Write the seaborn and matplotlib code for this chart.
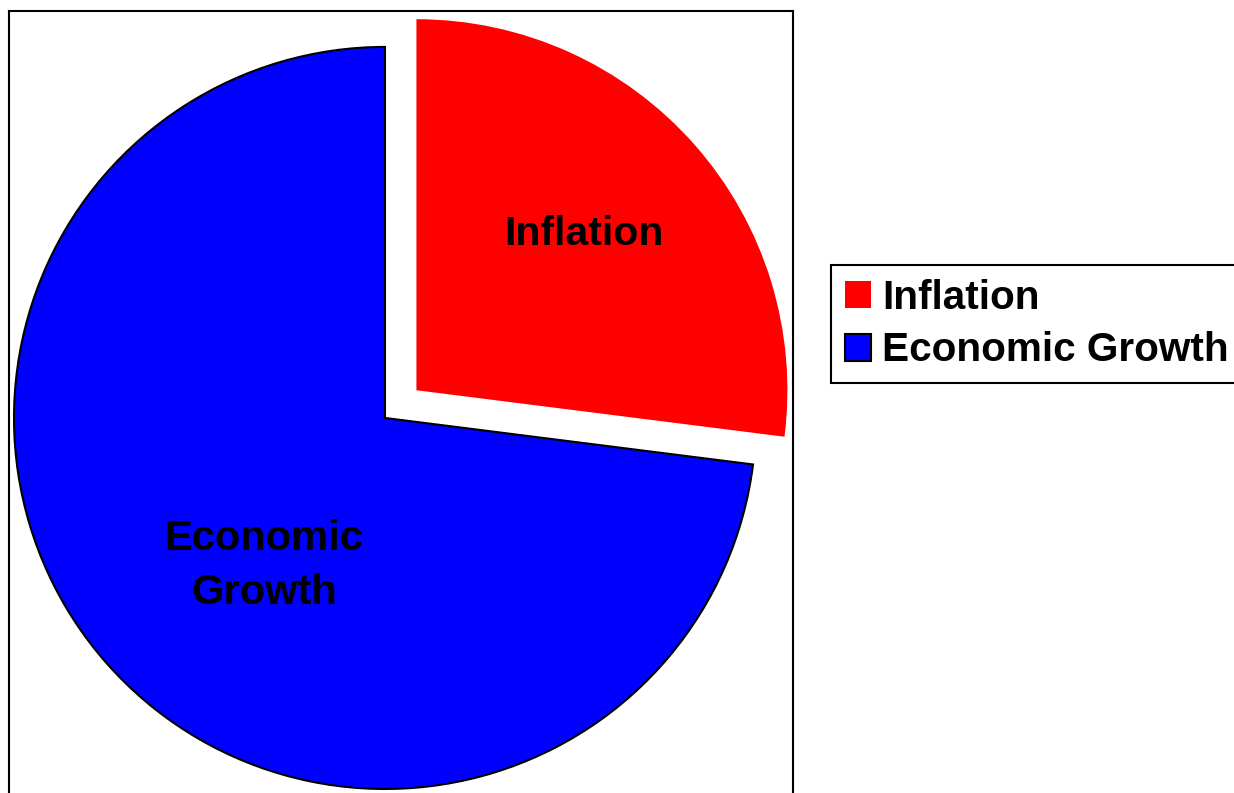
import matplotlib
matplotlib.use("Agg")
import matplotlib.pyplot as plt
import seaborn as sns

# Share of attention for each policy goal
categories = ["Inflation", "Economic Growth"]
shares = [27, 73]
colors = ["#FF0000", "#0000FF"]
explode = [0.113, 0.0]

sns.set_theme(style="white")
plt.rcParams["font.family"] = ["Liberation Sans", "DejaVu Sans"]
plt.rcParams["font.weight"] = "bold"
plt.rcParams["text.color"] = "black"

fig = plt.figure(figsize=(12.34, 7.93), dpi=100)
ax = fig.add_axes([0.00729, -0.0151, 0.6353, 1.0013])

wedges, _ = ax.pie(
    shares,
    colors=colors,
    explode=explode,
    startangle=90,
    counterclock=False,
    radius=1.0,
    frame=True,
)
# red wedge drawn without an outline, blue wedge with a black one
wedges[0].set_edgecolor("none")
wedges[1].set_edgecolor("black")
wedges[1].set_linewidth(1.5)

ax.set_aspect("auto")
ax.set_xlim(-1.0135, 1.0997)
ax.set_ylim(-1.0431, 1.0970)
ax.set_xticks([])
ax.set_yticks([])
for sp in ax.spines.values():
    sp.set_visible(True)
    sp.set_color("black")
    sp.set_linewidth(1.5)

ax.text(0.536, 0.466, "Inflation", ha="center", va="baseline",
        fontsize=29.5, fontweight="bold", color="black")
# baseline alignment of a two-line text refers to its last line
ax.text(-0.326, -0.501, "Economic\nGrowth", ha="center", va="baseline",
        multialignment="center", linespacing=1.45,
        fontsize=30, fontweight="bold", color="black")

leg = fig.legend(
    wedges, categories,
    loc="upper left",
    bbox_to_anchor=(831 / 1234, 1 - 265 / 793),
    bbox_transform=fig.transFigure,
    fancybox=False, shadow=False, framealpha=1,
    edgecolor="black",
    prop={"size": 29.2, "weight": "bold"},
    handlelength=0.64, handleheight=0.64, handletextpad=0.28,
    labelspacing=0.36, borderpad=0.34, borderaxespad=0.0,
)
leg.get_frame().set_linewidth(1.5)
for t in leg.get_texts():
    t.set_color("black")

fig.savefig("out.png", dpi=100, facecolor="white")
